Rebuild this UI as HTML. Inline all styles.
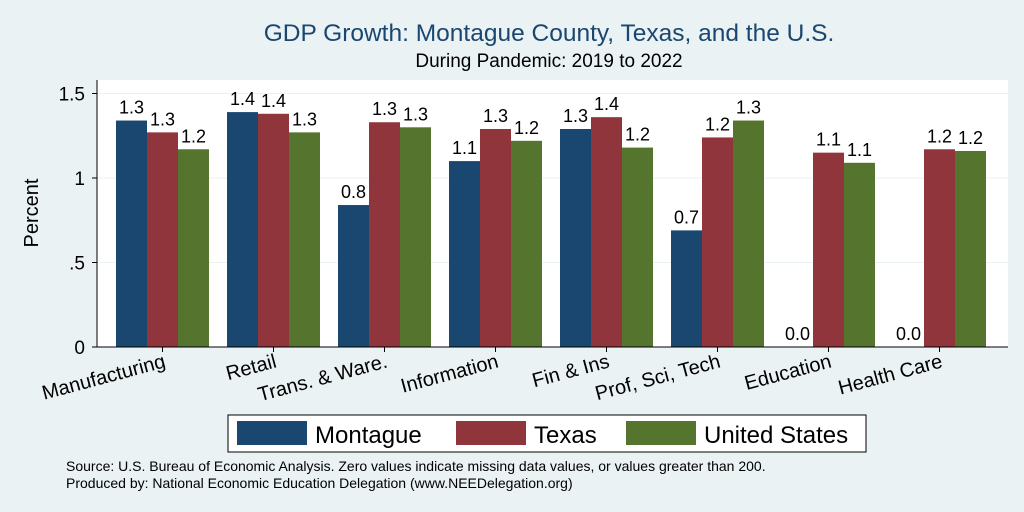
<!DOCTYPE html>
<html><head><meta charset="utf-8"><style>
body{margin:0;background:#eaf2f3;}
svg{display:block;font-family:"Liberation Sans",sans-serif;}
</style></head><body>
<svg id="chart" width="1024" height="512">
<rect x="0" y="0" width="1024" height="512" fill="#eaf2f3"/>
<text x="549" y="41" text-anchor="middle" font-size="24.5" fill="#1a476f">GDP Growth: Montague County, Texas, and the U.S.</text>
<text x="549" y="67" text-anchor="middle" font-size="19" fill="#000">During Pandemic: 2019 to 2022</text>
<rect x="97" y="80" width="911" height="267" fill="#fff"/>
<g id="grid"></g><g id="bars"></g><g id="axes"></g>
<text transform="translate(38,213) rotate(-90)" text-anchor="middle" font-size="20">Percent</text>
<rect x="228" y="415" width="638" height="37" fill="#fff" stroke="#000" stroke-width="1"/>
<g><rect x="237" y="421" width="70" height="24" fill="#1a476f"/><text x="315" y="443" font-size="24">Montague</text></g>
<g><rect x="456" y="421" width="70" height="24" fill="#90353b"/><text x="534" y="443" font-size="24">Texas</text></g>
<g><rect x="626" y="421" width="70" height="24" fill="#55752f"/><text x="704" y="443" font-size="24">United States</text></g>
<text x="66" y="471" font-size="14">Source: U.S. Bureau of Economic Analysis. Zero values indicate missing data values, or values greater than 200.</text>
<text x="66" y="488" font-size="14">Produced by: National Economic Education Delegation (www.NEEDelegation.org)</text>
</svg>
<script>
const categories=["Manufacturing","Retail","Trans. & Ware.","Information","Fin & Ins","Prof, Sci, Tech","Education","Health Care"];
const montague=[1.34,1.39,0.84,1.10,1.29,0.69,0,0];
const texas=[1.27,1.38,1.33,1.29,1.36,1.24,1.15,1.17];
const unitedStates=[1.17,1.27,1.30,1.22,1.18,1.34,1.09,1.16];
const yTicks=[0,0.5,1,1.5];
const yTickLabels=["0",".5","1","1.5"];
const NS="http://www.w3.org/2000/svg";
const y0=347,pxPerUnit=169;
function yScale(v){return y0-v*pxPerUnit;}
function groupStart(i){return 116+i*111;}
const barW=31;
const grid=document.getElementById('grid'),bars=document.getElementById('bars'),axes=document.getElementById('axes');
function mk(tag,attrs,parent){const e=document.createElementNS(NS,tag);for(const k in attrs)e.setAttribute(k,attrs[k]);parent.appendChild(e);return e;}
yTicks.forEach((t,i)=>{
 const y=yScale(t);
 const g=mk('line',{x1:97,x2:1008,y1:y,y2:y,stroke:'#eaf2f3','stroke-width':1},grid);
 
 
 mk('line',{x1:92,x2:97,y1:y,y2:y,stroke:'#000'},axes);
 const tx=mk('text',{x:85,y:y+7,'text-anchor':'end','font-size':19},axes);
 tx.textContent=yTickLabels[i];
 
 
});
mk('line',{x1:97,x2:97,y1:80,y2:347,stroke:'#000'},axes);
mk('line',{x1:97,x2:1008,y1:347,y2:347,stroke:'#000'},axes);
const series=[[montague,'#1a476f','montague'],[texas,'#90353b','texas'],[unitedStates,'#55752f','us']];
categories.forEach((c,i)=>{
 series.forEach((s,j)=>{
  const v=s[0][i],x=groupStart(i)+j*barW,y=yScale(v);
  const r=mk('rect',{x:x,y:y,width:barW,height:y0-y,fill:s[1]},bars);
  
  
  const t=mk('text',{x:x+barW/2,y:y-7,'text-anchor':'middle','font-size':18},bars);
  t.textContent=v.toFixed(1);
  
  
 });
 const cx=groupStart(i)+barW*1.5;
 mk('line',{x1:cx,x2:cx,y1:347,y2:352,stroke:'#000'},axes);
 const l=mk('text',{transform:`translate(${cx+4},${367}) rotate(-15)`,'text-anchor':'end','font-size':20},axes);
 l.textContent=c;
 
 
});
</script>
</body></html>
